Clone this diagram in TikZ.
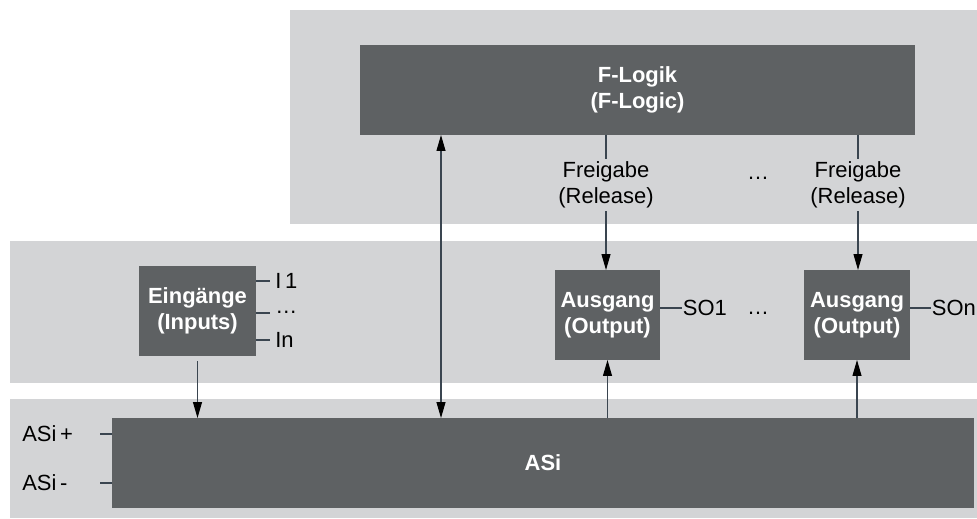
\documentclass[tikz,border=0pt]{standalone}
\usepackage{fontspec}
\setmainfont{Liberation Sans}
\usetikzlibrary{arrows.meta,positioning}
\definecolor{panelgray}{HTML}{D3D4D6}
\definecolor{boxgray}{HTML}{5E6163}
\definecolor{wiregray}{HTML}{3A4550}

\begin{document}
\begin{tikzpicture}[
            x=0.02cm, y=-0.02cm,
            font=\fontsize{12.5}{14.8}\selectfont,
            panel/.style={fill=panelgray},
            block/.style={rectangle, fill=boxgray, text=white, font=\fontsize{12.5}{14.8}\selectfont\bfseries, align=center, inner sep=0pt, outer sep=0pt, minimum height=1.8cm},
            wire/.style={draw=wiregray, line width=0.6pt},
            arrow/.style={wire, -{Triangle[length=0.32cm, width=0.18cm, color=black]}},
            dblarrow/.style={wire, {Triangle[length=0.32cm, width=0.18cm, color=black]}-{Triangle[length=0.32cm, width=0.18cm, color=black]}},
            pin/.style={anchor=west, inner sep=0pt, outer sep=3pt},
            release/.style={align=center, inner sep=1.5pt}
            ]

            \useasboundingbox (0,0) rectangle (977,518);

            % Background panels
            \fill[panel] (290,10) rectangle (977,224);
            \fill[panel] (10,241) rectangle (977,383);
            \fill[panel] (10,399) rectangle (977,518);

            % Blocks
            \node[block, minimum width=11.1cm] (flogik) at (637.5,90) {F-Logik\\(F-Logic)};
            \node[block, minimum width=2.34cm] (inputs) at (197.5,311) {Eingänge\\(Inputs)};
            \node[block, minimum width=2.1cm] (out1) at (607.5,315) {Ausgang\\(Output)};
            \node[block, minimum width=2.12cm] (outn) at (857,315) {Ausgang\\(Output)};
            \node[block, minimum width=17.24cm, minimum height=1.8cm] (asi) at (543,463) {ASi};

            % Release signals
            \node[release] (rel1) at (606,185) {Freigabe\\(Release)};
            \node[release] (reln) at (858,185) {Freigabe\\(Release)};
            \node[anchor=base] (reldots) at (758,179) {\dots};

            % Input and output pins
            \node[pin] (in1) at (270,281) {I\,1};
            \node[pin, anchor=base west] (indots) at (270,313) {\dots};
            \node[pin] (inn) at (270,340) {In};
            \node[pin, outer sep=0.5pt] (so1) at (682,308) {SO1};
            \node[anchor=base] (outdots) at (758,314) {\dots};
            \node[pin, outer sep=0.5pt] (son) at (931,308) {SOn};

            % Bus pins
            \node[anchor=west, inner sep=0pt] (asip) at (22,434) {ASi\,+};
            \node[anchor=west, inner sep=0pt] (asim) at (22,483) {ASi\,-};
            \coordinate (asip-end) at (100,434);
            \coordinate (asim-end) at (100,483);
            \coordinate (bus) at (441,300);

            % Connectors
            \draw[wire] (flogik.south -| rel1) -- (rel1.north);
            \draw[wire] (flogik.south -| reln) -- (reln.north);
            \draw[arrow] (rel1.south) -- (out1.north -| rel1);
            \draw[arrow] (reln.south) -- (outn.north -| reln);
            \draw[arrow] (asi.north -| out1) -- (out1.south);
            \draw[arrow] (asi.north -| outn) -- (outn.south);
            \draw[arrow] ([yshift=-3pt]inputs.south) -- (asi.north -| inputs);
            \draw[dblarrow] (flogik.south -| bus) -- (asi.north -| bus);
            \draw[wire] (inputs.east |- in1) -- (in1.west);
            \draw[wire] (inputs.east |- indots.base) -- (indots.base west);
            \draw[wire] (inputs.east |- inn) -- (inn.west);
            \draw[wire] (out1.east |- so1) -- (so1.west);
            \draw[wire] (outn.east |- son) -- (son.west);
            \draw[wire] (asi.west |- asip-end) -- (asip-end);
            \draw[wire] (asi.west |- asim-end) -- (asim-end);

        \end{tikzpicture}
\end{document}
